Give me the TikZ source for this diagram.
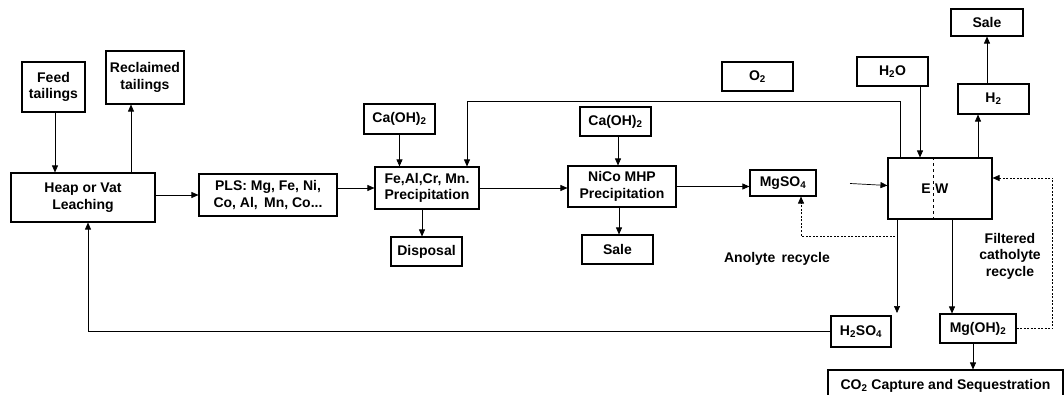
\documentclass[tikz,border=0pt]{standalone}
\usepackage{fontspec}
\setmainfont{Liberation Sans}
\usepackage{tikz}
\usetikzlibrary{
  arrows.meta,  % 三角形箭头
  calc          % 坐标计算
}

\begin{document}
\begin{tikzpicture}[x=1pt, y=-1pt,
  box/.style={draw, line width=1.1pt, inner sep=0pt, align=center,
    font=\bfseries\fontsize{14}{16.5}\selectfont},
  flow/.style={line width=0.7pt, -{Triangle[length=7pt, width=6pt]}},
  recycle/.style={flow, dash pattern=on 2pt off 1.5pt},
  lbl/.style={align=center, font=\bfseries\fontsize{14}{16.5}\selectfont}]
  % 画布大小
  \useasboundingbox (0, 0) rectangle (1064, 395);

  % 浸出部分
  \node[box, minimum width=63, minimum height=50] (feed) at (53.5, 87) {Feed\\tailings};
  \node[box, minimum width=78, minimum height=53] (reclaim) at (145, 77.5) {Reclaimed\\tailings};
  \node[box, minimum width=144, minimum height=49] (heap) at (83, 197.5) {Heap or Vat\\Leaching};
  \node[box, minimum width=138, minimum height=42] (pls) at (268, 195) {PLS: Mg, Fe, Ni,\\Co, Al,\, Mn, Co...};

  % 沉淀部分
  \node[box, minimum width=71, minimum height=30] (lime1) at (399.5, 119) {Ca(OH)\textsubscript{2}};
  \node[box, minimum width=104, minimum height=42] (fealcr) at (427, 188) {Fe,Al,Cr, Mn.\\Precipitation};
  \node[box, minimum width=71, minimum height=29] (disposal) at (426.5, 251.5) {Disposal};
  \node[box, minimum width=71, minimum height=29] (lime2) at (615.5, 121.5) {Ca(OH)\textsubscript{2}};
  \node[box, minimum width=108, minimum height=41] (nico) at (622, 186.5) {NiCo MHP\\Precipitation};
  \node[box, minimum width=71, minimum height=29] (sale1) at (617.5, 249.5) {Sale};
  \node[box, minimum width=66, minimum height=26] (mgso) at (783, 183) {MgSO\textsubscript{4}};

  % 电积部分
  \node[box, minimum width=71, minimum height=29] (oxy) at (757.5, 76.5) {O\textsubscript{2}};
  \node[box, minimum width=71, minimum height=29] (water) at (892.5, 71.5) {H\textsubscript{2}O};
  \node[box, minimum width=71, minimum height=30] (hyd) at (993.5, 99) {H\textsubscript{2}};
  \node[box, minimum width=72, minimum height=27] (sale2) at (987, 22.5) {Sale};
  \node[box, minimum width=104, minimum height=61] (ew) at (940, 188.5) {};
  \node[lbl, anchor=east, inner sep=1pt] (ewE) at (932, 189) {E};
  \node[lbl, anchor=west, inner sep=1pt] (ewW) at (934, 189) {W};
  \draw[line width=0.7pt, dashed] ([xshift=-7pt]ew.north) -- ([xshift=-7pt]ew.south);
  \node[box, minimum width=60, minimum height=31] (acid) at (861, 331.5) {H\textsubscript{2}SO\textsubscript{4}};
  \node[box, minimum width=76, minimum height=29] (mgoh) at (978, 328.5) {Mg(OH)\textsubscript{2}};
  \node[box, minimum width=235, minimum height=32] (co2) at (945.5, 386) {CO\textsubscript{2} Capture and Sequestration};

  % 文字标注
  \node[lbl] (anolyte) at (777, 259) {Anolyte\, recycle};
  \node[lbl] (catholyte) at (1010, 256) {Filtered\\catholyte\\recycle};

  % 主流程箭头
  \draw[flow] ([xshift=1.5pt]feed.south) -- ([xshift=1.5pt]feed.south |- heap.north);
  \draw[flow] ([xshift=-14pt]reclaim.south |- heap.north) -- ([xshift=-14pt]reclaim.south);
  \draw[flow] (heap.east |- pls.west) -- (pls.west);
  \draw[flow] (pls.east |- fealcr.west) -- (fealcr.west);
  \draw[flow] (lime1.south) -- (lime1.south |- fealcr.north);
  \draw[flow] ([xshift=-5pt]fealcr.south) -- ([xshift=-5pt]fealcr.south |- disposal.north);
  \draw[flow] (fealcr.east) -- (fealcr.east -| nico.west);
  \draw[flow] ([xshift=2.5pt]lime2.south) -- ([xshift=2.5pt]lime2.south |- nico.north);
  \draw[flow] ([xshift=-3pt]nico.south) -- ([xshift=-3pt]nico.south |- sale1.north);
  \draw[flow] (nico.east) -- (nico.east -| mgso.west);

  % 电积进出
  \coordinate (ewin) at (850, 183.5);
  \draw[flow] (ewin) -- ([yshift=3pt]ew.west);
  \draw[flow] ([xshift=-40pt]ew.north) |- ([xshift=40pt]fealcr.north |- 0, 101) -- ([xshift=40pt]fealcr.north);
  \draw[flow] ([xshift=27.5pt]water.south) -- ([xshift=27.5pt]water.south |- ew.north);
  \draw[flow] ([xshift=38pt]ew.north) -- ([xshift=38pt]ew.north |- hyd.south);
  \draw[flow] (sale2.south |- hyd.north) -- (sale2.south);
  \coordinate (acidin) at (897, 313);
  \draw[flow] ([xshift=-43pt]ew.south) -- (acidin);
  \draw[flow] ([xshift=12pt]ew.south) -- ([xshift=12pt]ew.south |- mgoh.north);
  \draw[flow] ([xshift=-5pt]mgoh.south) -- ([xshift=-5pt]mgoh.south |- co2.north);
  \draw[flow] (acid.west) -| ([xshift=5pt]heap.south);

  % 循环（虚线）
  \draw[recycle] ([xshift=-45pt]ew.south |- 0, 236) -| ([xshift=18pt]mgso.south);
  \draw[recycle] (mgoh.east) -- ++(36, 0) |- ([yshift=10.5pt]ew.east);
\end{tikzpicture}
\end{document}
